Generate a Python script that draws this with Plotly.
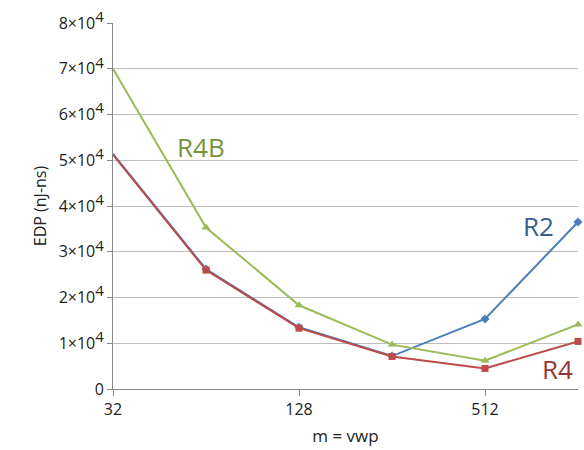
import plotly.graph_objects as go

m_values = [32, 64, 128, 256, 512, 1024]
r2_edp = [51400, 26200, 13500, 7200, 15300, 36500]
r4_edp = [51200, 26000, 13300, 7100, 4500, 10400]
r4b_edp = [70000, 35300, 18300, 9700, 6200, 14100]

y_tickvals = [0, 10000, 20000, 30000, 40000, 50000, 60000, 70000, 80000]
y_ticktext = ["0"] + [f"{i}×10<sup><span style='font-size:15px'>4</span></sup>" for i in range(1, 9)]
x_tickvals = [32, 128, 512]
x_ticktext = ["32", "128", "512"]

blue = "#4a7ebb"
red = "#be4b48"
green = "#9bbb59"

fig = go.Figure()
fig.add_trace(go.Scatter(x=m_values, y=r2_edp, mode="lines+markers", name="R2",
                         line=dict(color=blue, width=2),
                         marker=dict(symbol="diamond", size=7, color=blue), cliponaxis=False))
fig.add_trace(go.Scatter(x=m_values, y=r4b_edp, mode="lines+markers", name="R4B",
                         line=dict(color=green, width=2),
                         marker=dict(symbol="triangle-up", size=8, color=green), cliponaxis=False))
fig.add_trace(go.Scatter(x=m_values, y=r4_edp, mode="lines+markers", name="R4",
                         line=dict(color=red, width=2),
                         marker=dict(symbol="square", size=7, color=red), cliponaxis=False))

fig.add_annotation(x=0.19, y=0.661, xref="paper", yref="paper", text="R4B", showarrow=False,
                   xanchor="center", yanchor="middle",
                   font=dict(size=26, color="#77933c"))
fig.add_annotation(x=0.914, y=0.444, xref="paper", yref="paper", text="R2", showarrow=False,
                   xanchor="center", yanchor="middle",
                   font=dict(size=26, color="#376092"))
fig.add_annotation(x=0.955, y=0.054, xref="paper", yref="paper", text="R4", showarrow=False,
                   xanchor="center", yanchor="middle",
                   font=dict(size=26, color="#953735"))

fig.update_layout(
    width=584, height=450,
    margin=dict(l=113, r=6, t=17, b=61),
    plot_bgcolor="white", paper_bgcolor="white",
    showlegend=False,
    font=dict(family="Open Sans", size=16, color="#222222"),
    xaxis=dict(type="log", range=[1.50515, 3.0103],
               tickvals=x_tickvals, ticktext=x_ticktext,
               showgrid=False, showline=True, linecolor="#888888", linewidth=1,
               ticks="outside", ticklen=6, tickcolor="#888888",
               title=dict(text="m = vwp", font=dict(size=17), standoff=10)),
    yaxis=dict(range=[0, 80000], tickvals=y_tickvals, ticktext=y_ticktext,
               showgrid=True, gridcolor="#bdbdbd", gridwidth=1,
               showline=True, linecolor="#888888", linewidth=1,
               ticks="outside", ticklen=5, tickcolor="#888888",
               zeroline=False, ticklabeloverflow="allow",
               title=dict(text="EDP (nJ-ns)", font=dict(size=16), standoff=8)),
)

fig.write_html("out.html", config={"displayModeBar": False},
               post_script="document.body.style.margin='0';document.body.style.overflow='hidden';")
